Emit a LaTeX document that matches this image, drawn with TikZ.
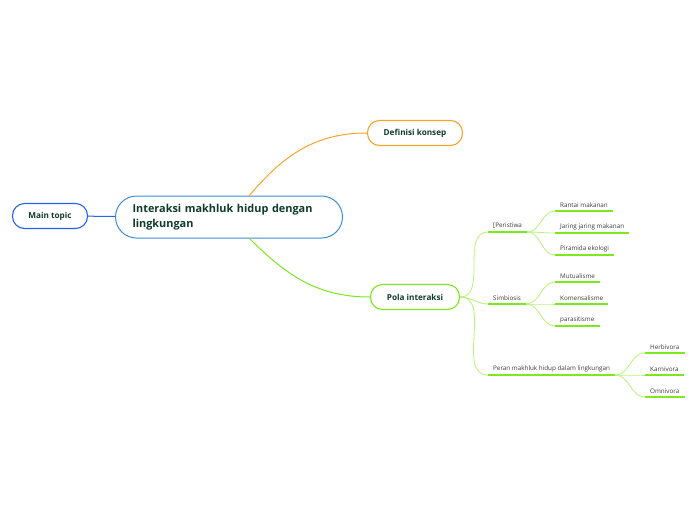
\documentclass[tikz,border=0pt]{standalone}
\usepackage{fontspec}
\setmainfont{Open Sans}
\definecolor{topicblue}{HTML}{2563EB}
\definecolor{centralblue}{HTML}{3B8ED8}
\definecolor{branchorange}{HTML}{F7A52A}
\definecolor{branchgreen}{HTML}{7DE81E}
\definecolor{twiggreen}{HTML}{B8F27A}
\definecolor{nodetext}{HTML}{0E3B2C}
\definecolor{leaftext}{HTML}{3A3A3A}

\begin{document}
\begin{tikzpicture}[
  x=1pt, y=-1pt,
  topic/.style={draw, line width=1.1pt, rounded corners=12pt, minimum height=25pt,
    inner xsep=10pt, font=\bfseries\fontsize{8.2}{10}\selectfont, text=nodetext, fill=white},
  central/.style={draw=centralblue, line width=1pt, rounded corners=21pt, minimum height=42pt,
    text width=193pt, inner xsep=17pt, align=left, text=nodetext,
    font=\bfseries\fontsize{10.9}{15}\selectfont, fill=white},
  leaf/.style={anchor=south west, inner xsep=5pt, inner ysep=3pt, text=leaftext,
    font=\fontsize{6.3}{8}\selectfont},
  underline/.style={draw=branchgreen, line width=1.4pt},
  twig/.style={draw=twiggreen, line width=0.8pt},
]
\useasboundingbox (0,0) rectangle (696,520);

% main topic and central idea
\node[topic, draw=topicblue, minimum width=75pt] (main) at (50,216) {Main topic};
\node[central] (center) at (229,217) {Interaksi makhluk hidup dengan\\lingkungan};
\draw[topicblue, line width=1pt] (main) -- (center);

% main branches
\node[topic, draw=branchorange, minimum width=95pt] (definisi) at (415,133) {Definisi konsep};
\node[topic, draw=branchgreen, minimum width=89pt] (pola) at (415,297) {Pola interaksi};
\draw[branchorange, line width=1pt] (249,196) to[out=50,in=180] (definisi.west);
\draw[branchgreen, line width=1pt] (249,238) to[out=-45,in=180] (pola.west);

% subtopics
\node[leaf] (peristiwa) at (488,232) {[Peristiwa};
\node[leaf] (simbiosis) at (488,304) {Simbiosis};
\node[leaf] (peran) at (488,375) {Peran makhluk hidup dalam lingkungan};
\foreach \s in {peristiwa, simbiosis, peran} {
  \draw[underline] (\s.south west) -- (\s.south east);
  \draw[twig] (pola.east) to[out=0,in=180] (\s.south west);
}

% leaves
\node[leaf] (rantai) at (555,211) {Rantai makanan};
\node[leaf] (jaring) at (555,233) {Jaring jaring makanan};
\node[leaf] (piramida) at (555,255) {Piramida ekologi};
\node[leaf] (mutual) at (555,282) {Mutualisme};
\node[leaf] (komensal) at (555,304) {Komensalisme};
\node[leaf] (parasit) at (555,326) {parasitisme};
\node[leaf] (herbi) at (645,353) {Herbivora};
\node[leaf] (karni) at (645,375) {Karnivora};
\node[leaf] (omni) at (645,397) {Omnivora};

\foreach \p/\c in {peristiwa/rantai, peristiwa/jaring, peristiwa/piramida,
    simbiosis/mutual, simbiosis/komensal, simbiosis/parasit,
    peran/herbi, peran/karni, peran/omni} {
  \draw[underline] (\c.south west) -- (\c.south east);
  \draw[twig] (\p.south east) to[out=0,in=180] (\c.south west);
}
\end{tikzpicture}
\end{document}
